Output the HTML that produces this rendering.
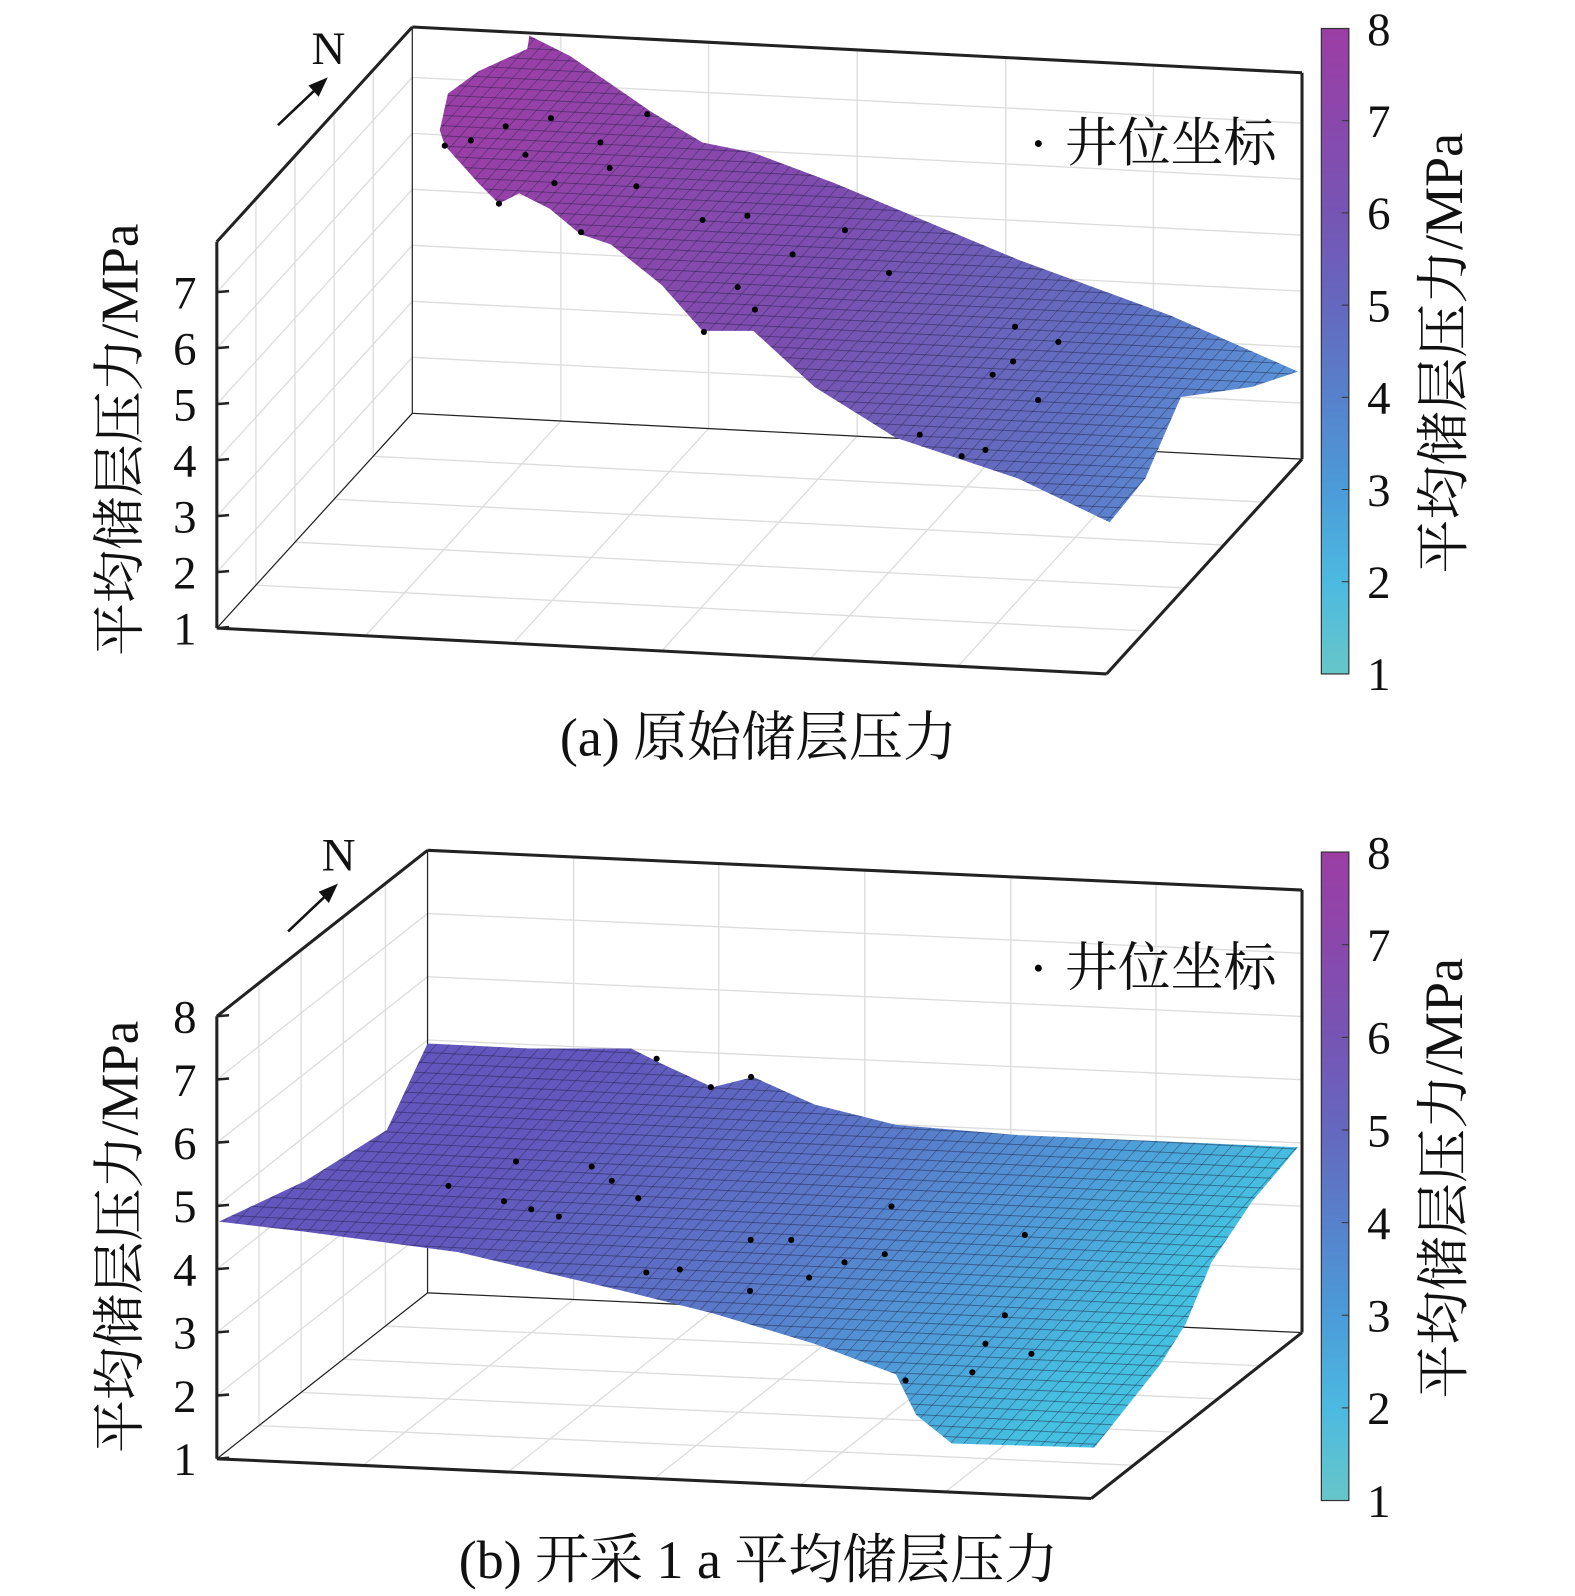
<!DOCTYPE html>
<html><head><meta charset="utf-8"><style>
html,body{margin:0;padding:0;background:#fff;}
svg{display:block;}
text{font-family:"Liberation Serif","Noto Serif CJK SC",serif;fill:#111;}
</style></head><body>
<svg id="fig" width="1575" height="1596" viewBox="0 0 1575 1596" xmlns="http://www.w3.org/2000/svg">
<defs>
<linearGradient id="cbGrad" x1="0" y1="1" x2="0" y2="0">
<stop offset="0" stop-color="#66c6c8"/><stop offset="0.143" stop-color="#4cb9e0"/>
<stop offset="0.286" stop-color="#4b9bd8"/><stop offset="0.429" stop-color="#5781cc"/>
<stop offset="0.571" stop-color="#6568be"/><stop offset="0.714" stop-color="#7655b4"/>
<stop offset="0.857" stop-color="#8a48ac"/><stop offset="1" stop-color="#9c3ea4"/>
</linearGradient>
<linearGradient id="surfA" gradientUnits="userSpaceOnUse" x1="480" y1="90" x2="1200" y2="470">
<stop offset="0" stop-color="#9a3fa6"/><stop offset="0.45" stop-color="#7c4eb0"/>
<stop offset="0.8" stop-color="#6070c2"/><stop offset="1" stop-color="#5a92d6"/>
</linearGradient>
<linearGradient id="surfB" gradientUnits="userSpaceOnUse" x1="600" y1="1030" x2="1000" y2="1420">
<stop offset="0" stop-color="#6356bc"/><stop offset="0.45" stop-color="#5a78c8"/>
<stop offset="0.75" stop-color="#4f9bd8"/><stop offset="1" stop-color="#45c0e0"/>
</linearGradient>
<pattern id="meshH" width="14" height="10" patternUnits="userSpaceOnUse" patternTransform="rotate(3)">
<line x1="0" y1="0.5" x2="14" y2="0.5" stroke="#1a1a3a" stroke-width="1" opacity="0.45"/>
</pattern>
<pattern id="meshV" width="13" height="14" patternUnits="userSpaceOnUse" patternTransform="skewX(-42)">
<line x1="0.5" y1="0" x2="0.5" y2="14" stroke="#1a1a3a" stroke-width="1" opacity="0.45"/>
</pattern>
<clipPath id="clipA"><path id="pA" d="M437,143 L432,128 L440,92 L470,70 L518,48 L520,35 L560,55 L640,110 L690,140 L740,150 L820,180 L1000,255 L1150,310 L1275,365 L1230,380 L1160,390 L1125,470 L1090,513 L1000,470 L880,430 L800,380 L740,325 L690,325 L650,280 L600,240 L570,230 L540,205 L510,190 L490,200 L470,180 Z"/></clipPath>
<clipPath id="clipB"><path id="pB" d="M215,1200 L300,1160 L380,1110 L420,1025 L520,1030 L620,1030 L650,1045 L700,1068 L740,1058 L800,1085 L880,1105 L1000,1115 L1275,1127 L1230,1180 L1190,1240 L1165,1300 L1140,1340 L1075,1422 L935,1418 L900,1390 L880,1350 L800,1320 L700,1290 L620,1270 L450,1230 L300,1210 Z"/></clipPath>
</defs>
<g id="root" transform="scale(1.018)">
<g id="panelA"></g>
<g id="panelB"></g>
</g>
<script>
// ---- data ----
const zTicksA = [1,2,3,4,5,6,7];
const zTicksB = [1,2,3,4,5,6,7,8];
const cbTicks = [1,2,3,4,5,6,7,8];
// wells panel a: plan coords (east 0-100, north 0-100) and pressure MPa
const wellsAE = [11.8,14.1,17.0,21.6,28.2,32.1,20.8,25.6,30.6,34.7,21.1,32.7,44.0,48.4,59.2,55.4,67.0,51.6,51.8,55.1,82.5,88.1,84.6,90.5,83.7,79.0,83.4,85.9];
const wellsAN = [62.9,65.8,70.4,72.6,67.9,74.1,63.2,56.2,61.7,56.7,48.3,37.5,48.2,51.1,51.9,42.4,38.9,31.6,13.4,24.5,32.8,29.5,22.3,8.2,15.9,0,1.4,2.2];
const wellsAP = [7.3,7.3,7.4,7.5,7.3,7.6,7.2,7.0,7.1,7.0,6.9,6.9,6.8,6.8,6.6,6.5,6.4,6.3,6.2,6.2,5.8,5.7,5.6,5.5,5.6,5.1,4.7,4.8];
const wellsBE = [24.9,30.6,30.4,33.6,36.7,38.6,41.0,44.5,42.1,48.4,52.2,46.9,50.1,56.3,60.7,58.9,65.2,67.8,71.9,70.4,87.0,87.2,86.4,91.9,86.3,77.6];
const wellsBN = [6.6,15.0,10.1,9.8,10.0,17.7,17.3,15.3,34.0,33.6,36.9,9.2,11.8,19.7,20.7,8.6,10.5,16.5,18.6,28.0,22.4,12.1,6.2,5.2,0.4,4.8];
const wellsBP = [5.3,5.5,5.0,4.9,4.8,5.4,5.2,5.0,6.7,6.3,6.4,4.0,4.0,4.3,4.3,3.8,4.0,4.1,4.2,4.7,4.5,3.5,3.2,3.1,2.9,2.6];

const NS = "http://www.w3.org/2000/svg";
function mk(parent, tag, attrs, txt){
  const el = document.createElementNS(NS, tag);
  for (const k in attrs) el.setAttribute(k, attrs[k]);
  if (txt !== undefined) el.textContent = txt;
  parent.appendChild(el); return el;
}
function makePanel(g, cfg){
  const P = (e,n,z)=>[cfg.ox + cfg.xe*e/100 + cfg.ye*n/100, cfg.oy + cfg.xn*e/100 + cfg.yn*n/100 - (z-cfg.zmin)*cfg.zs];
  const zTop = cfg.zmax;
  const grid = mk(g,'g',{});
  
  
  const gl=(a,b)=>mk(grid,'line',{x1:a[0],y1:a[1],x2:b[0],y2:b[1],stroke:'#dcdcdc','stroke-width':1.3});
  cfg.ticks.forEach(t=>{ gl(P(0,0,t),P(0,100,t)); gl(P(0,100,t),P(100,100,t)); });
  [16.7,33.3,50,66.7,83.3].forEach(e=>{ gl(P(e,100,cfg.zmin),P(e,100,zTop)); gl(P(e,0,cfg.zmin),P(e,100,cfg.zmin)); });
  [20,40,60,80].forEach(n=>{ gl(P(0,n,cfg.zmin),P(0,n,zTop)); gl(P(0,n,cfg.zmin),P(100,n,cfg.zmin)); });
  const bx = mk(g,'g',{fill:'none'});
  
  
  const bl=(a,b,w)=>mk(bx,'line',{x1:a[0],y1:a[1],x2:b[0],y2:b[1],stroke:'#222','stroke-width':w});
  bl(P(0,100,cfg.zmin),P(0,100,zTop),1.2);
  bl(P(0,100,cfg.zmin),P(100,100,cfg.zmin),1.2);
  bl(P(0,0,cfg.zmin),P(0,100,cfg.zmin),1.2);
  const s = mk(g,'g',{});
  
  
  mk(s,'use',{href:cfg.path,fill:cfg.grad});
  mk(s,'rect',{x:0,y:0,width:1575,height:1596,fill:'url(#meshH)','clip-path':cfg.clip});
  mk(s,'rect',{x:0,y:0,width:1575,height:1596,fill:'url(#meshV)','clip-path':cfg.clip});
  const wg = mk(g,'g',{});
  
  
  cfg.we.forEach((e,i)=>{
    const p = P(e,cfg.wn[i],cfg.wp[i]);
    const c = mk(wg,'circle',{cx:p[0],cy:p[1],r:3,fill:'#000'});
    
    
  });
  bl(P(0,0,cfg.zmin),P(0,0,zTop),3);
  bl(P(0,0,zTop),P(0,100,zTop),3);
  bl(P(0,100,zTop),P(100,100,zTop),3);
  bl(P(100,100,zTop),P(100,100,cfg.zmin),3);
  bl(P(0,0,cfg.zmin),P(100,0,cfg.zmin),3);
  bl(P(100,0,cfg.zmin),P(100,100,cfg.zmin),3);
  cfg.ticks.forEach(t=>{
    const p=P(0,0,t);
    mk(g,'line',{x1:p[0],y1:p[1],x2:p[0]+12,y2:p[1]-1,stroke:'#222','stroke-width':2.5});
    const tx = mk(g,'text',{x:p[0]-20,y:p[1]+16,'font-size':46,'text-anchor':'end'},String(t));
    
    
  });
  const zt = mk(g,'text',{x:0,y:0,'font-size':52,'text-anchor':'middle',transform:`translate(${cfg.ztx},${cfg.zty}) rotate(-90)`},'平均储层压力/MPa');
  
  
  const cb = mk(g,'g',{});
  
  
  mk(cb,'rect',{x:1298,y:cfg.cbTop,width:27,height:cfg.cbBot-cfg.cbTop,fill:'url(#cbGrad)',stroke:'#333','stroke-width':1.2});
  cbTicks.forEach(t=>{
    const y = cfg.cbBot - (t-1)/7*(cfg.cbBot-cfg.cbTop);
    if(t>1&&t<8) mk(cb,'line',{x1:1318,y1:y,x2:1325,y2:y,stroke:'#333','stroke-width':1});
    const tx = mk(cb,'text',{x:1343,y:y+16,'font-size':46},String(t));
    
    
  });
  const ct = mk(cb,'text',{x:0,y:0,'font-size':53,'text-anchor':'middle',transform:`translate(${1436},${(cfg.cbTop+cfg.cbBot)/2+2}) rotate(-90)`},'平均储层压力/MPa');
  
  
  const lg = mk(g,'g',{});
  
  
  mk(lg,'circle',{cx:1020,cy:cfg.legY-17,r:3.4,fill:'#000'});
  mk(lg,'text',{x:1046,y:cfg.legY,'font-size':52},'井位坐标');
  const na = mk(g,'g',{});
  
  
  mk(na,'line',{x1:cfg.nx,y1:cfg.ny,x2:cfg.nx+40,y2:cfg.ny-38,stroke:'#111','stroke-width':2.5});
  mk(na,'polygon',{points:`${cfg.nx+49},${cfg.ny-47} ${cfg.nx+30},${cfg.ny-39} ${cfg.nx+40},${cfg.ny-28}`,fill:'#111'});
  mk(na,'text',{x:cfg.nx+33,y:cfg.ny-60,'font-size':46},'N');
  const cap = mk(g,'text',{x:745,y:cfg.capY,'font-size':53,'text-anchor':'middle'},cfg.caption);
  
  
}
makePanel(document.getElementById('panelA'),{
  ox:213,oy:617,xe:874,xn:45,ye:192,yn:-211,zmin:1,zmax:7.9,zs:55,ticks:zTicksA,
  path:'#pA',grad:'url(#surfA)',clip:'url(#clipA)',we:wellsAE,wn:wellsAN,wp:wellsAP,
  ztx:135,zty:432,cbTop:28,cbBot:662,legY:158,nx:273,ny:123,capY:742,caption:'(a) 原始储层压力'
});
makePanel(document.getElementById('panelB'),{
  ox:213,oy:1433,xe:859,xn:39,ye:207,yn:-163,zmin:1,zmax:8,zs:62.1,ticks:zTicksB,
  path:'#pB',grad:'url(#surfB)',clip:'url(#clipB)',we:wellsBE,wn:wellsBN,wp:wellsBP,
  ztx:135,zty:1215,cbTop:837,cbBot:1474,legY:968,nx:283,ny:915,capY:1550,caption:'(b) 开采 1 a 平均储层压力'
});
</script>
</svg>
</body></html>
